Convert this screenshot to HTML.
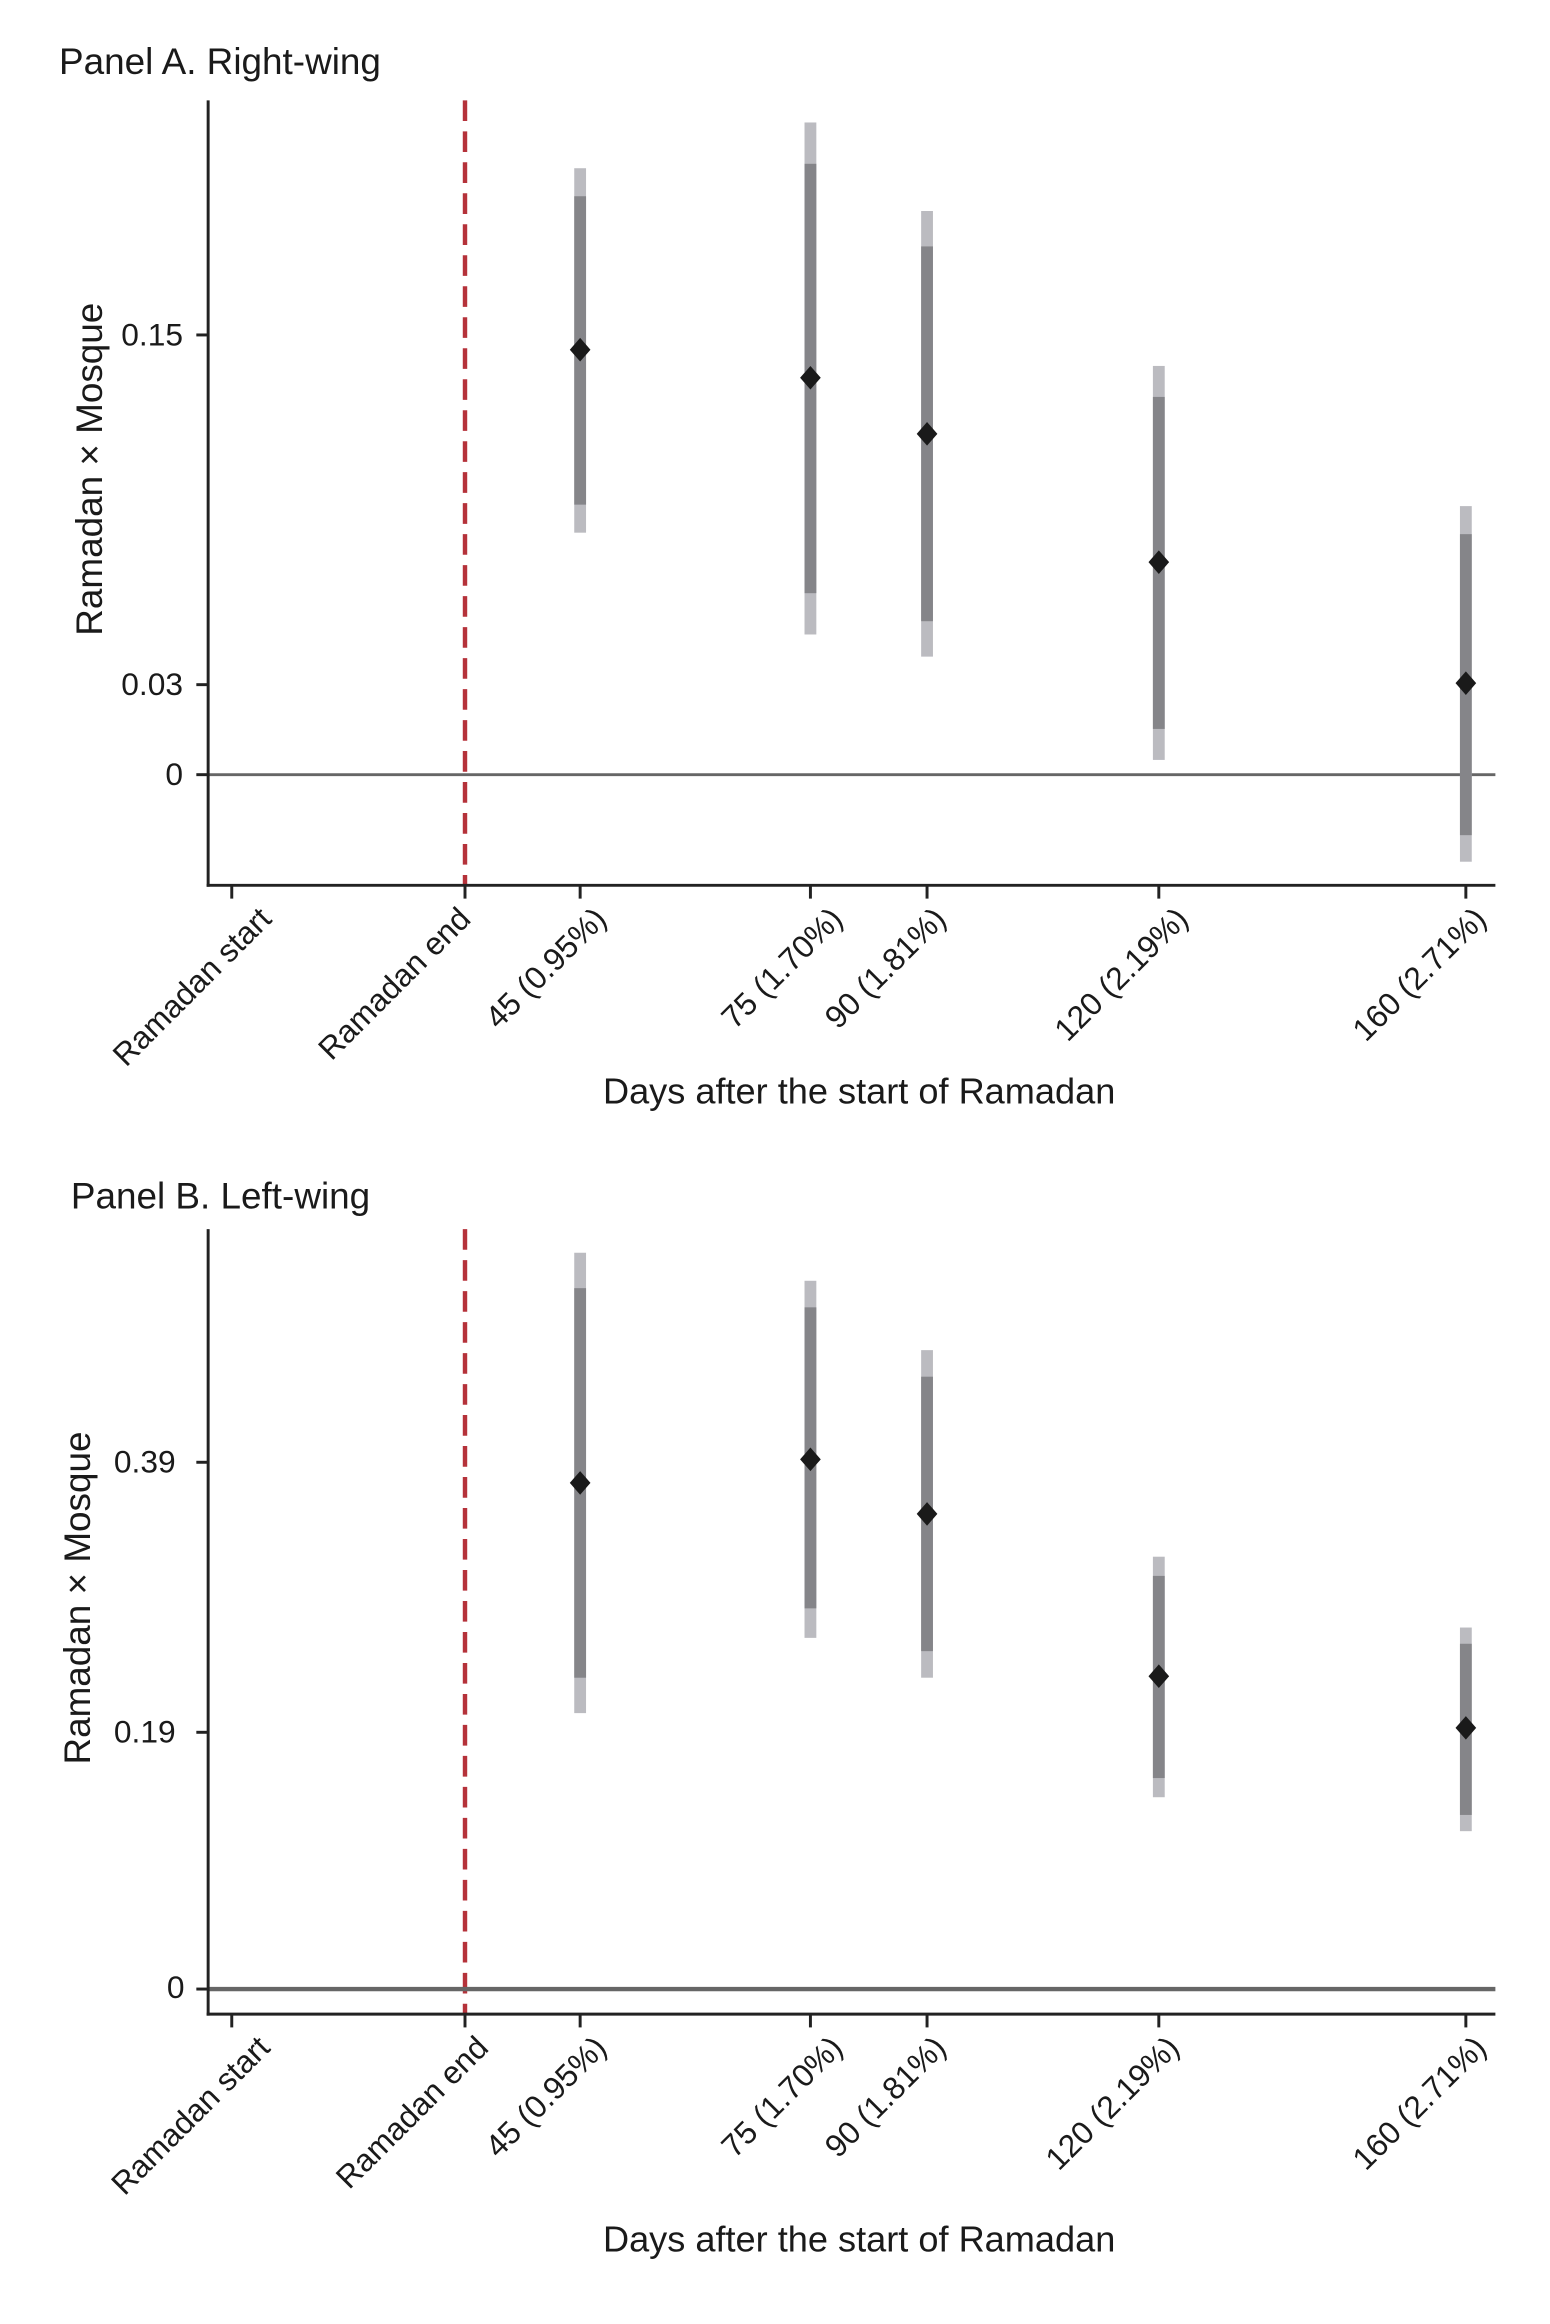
<!DOCTYPE html>
<html><head><meta charset="utf-8"><style>
html,body{margin:0;padding:0;background:#fff;}
svg{display:block;}
text{font-family:"Liberation Sans",sans-serif;fill:#1a1a1a;}
</style></head><body>
<svg width="1550" height="2324" viewBox="0 0 1050 1575" preserveAspectRatio="none" xmlns="http://www.w3.org/2000/svg">
<!-- Panel A -->
<text x="40" y="50" font-size="25">Panel A. Right-wing</text>
<line x1="315" y1="68" x2="315" y2="600" stroke="#b5323a" stroke-width="3" stroke-dasharray="14,7"/>
<line x1="141" y1="525" x2="1013" y2="525" stroke="#666" stroke-width="2"/>
<line x1="141" y1="68" x2="141" y2="601" stroke="#222" stroke-width="2"/>
<line x1="140" y1="600" x2="1013" y2="600" stroke="#222" stroke-width="2"/>
<g stroke="#222" stroke-width="2">
<line x1="133" y1="227" x2="141" y2="227"/><line x1="133" y1="464" x2="141" y2="464"/><line x1="133" y1="525" x2="141" y2="525"/>
<line x1="157" y1="600" x2="157" y2="609"/><line x1="315" y1="600" x2="315" y2="609"/><line x1="393" y1="600" x2="393" y2="609"/><line x1="549" y1="600" x2="549" y2="609"/><line x1="628" y1="600" x2="628" y2="609"/><line x1="785" y1="600" x2="785" y2="609"/><line x1="993" y1="600" x2="993" y2="609"/>
</g>
<g font-size="21.5" text-anchor="end">
<text x="124" y="234">0.15</text><text x="124" y="471">0.03</text><text x="124" y="532">0</text>
</g>
<g fill="#bbbbc0">
<rect x="389" y="114" width="8" height="247"/><rect x="545" y="83" width="8" height="347"/><rect x="624" y="143" width="8" height="302"/><rect x="781" y="248" width="8" height="267"/><rect x="989" y="343" width="8" height="241"/>
</g>
<g fill="#858589">
<rect x="389" y="133" width="8" height="209"/><rect x="545" y="111" width="8" height="291"/><rect x="624" y="167" width="8" height="254"/><rect x="781" y="269" width="8" height="225"/><rect x="989" y="362" width="8" height="204"/>
</g>
<g fill="#1a1a1a">
<path d="M393 229 l7 8 l-7 8 l-7 -8z"/><path d="M549 248 l7 8 l-7 8 l-7 -8z"/><path d="M628 286 l7 8 l-7 8 l-7 -8z"/><path d="M785 373 l7 8 l-7 8 l-7 -8z"/><path d="M993 455 l7 8 l-7 8 l-7 -8z"/>
</g>
<g font-size="21.5" text-anchor="end">
<text transform="translate(185,624) rotate(-45)">Ramadan start</text>
<text transform="translate(320,624) rotate(-45)">Ramadan end</text>
<text transform="translate(412,624) rotate(-45)">45 (0.95%)</text>
<text transform="translate(572,624) rotate(-45)">75 (1.70%)</text>
<text transform="translate(642,624) rotate(-45)">90 (1.81%)</text>
<text transform="translate(806,624) rotate(-45)">120 (2.19%)</text>
<text transform="translate(1008,624) rotate(-45)">160 (2.71%)</text>
</g>
<text x="582" y="748" font-size="24.5" text-anchor="middle">Days after the start of Ramadan</text>
<text transform="translate(69,318) rotate(-90)" font-size="25" text-anchor="middle">Ramadan × Mosque</text>

<!-- Panel B -->
<text x="48" y="819" font-size="25">Panel B. Left-wing</text>
<line x1="315" y1="833" x2="315" y2="1365" stroke="#b5323a" stroke-width="3" stroke-dasharray="14,7"/>
<line x1="141" y1="1348" x2="1013" y2="1348" stroke="#666" stroke-width="3"/>
<line x1="141" y1="833" x2="141" y2="1366" stroke="#222" stroke-width="2"/>
<line x1="140" y1="1365" x2="1013" y2="1365" stroke="#222" stroke-width="2"/>
<g stroke="#222" stroke-width="2">
<line x1="133" y1="991" x2="141" y2="991"/><line x1="133" y1="1174" x2="141" y2="1174"/><line x1="133" y1="1348" x2="141" y2="1348"/>
<line x1="157" y1="1365" x2="157" y2="1374"/><line x1="315" y1="1365" x2="315" y2="1374"/><line x1="393" y1="1365" x2="393" y2="1374"/><line x1="549" y1="1365" x2="549" y2="1374"/><line x1="628" y1="1365" x2="628" y2="1374"/><line x1="785" y1="1365" x2="785" y2="1374"/><line x1="993" y1="1365" x2="993" y2="1374"/>
</g>
<g font-size="21.5" text-anchor="end">
<text x="119" y="998">0.39</text><text x="119" y="1181">0.19</text><text x="125" y="1354">0</text>
</g>
<g fill="#bbbbc0">
<rect x="389" y="849" width="8" height="312"/><rect x="545" y="868" width="8" height="242"/><rect x="624" y="915" width="8" height="222"/><rect x="781" y="1055" width="8" height="163"/><rect x="989" y="1103" width="8" height="138"/>
</g>
<g fill="#858589">
<rect x="389" y="873" width="8" height="264"/><rect x="545" y="886" width="8" height="204"/><rect x="624" y="933" width="8" height="186"/><rect x="781" y="1068" width="8" height="137"/><rect x="989" y="1114" width="8" height="116"/>
</g>
<g fill="#1a1a1a">
<path d="M393 997 l7 8 l-7 8 l-7 -8z"/><path d="M549 981 l7 8 l-7 8 l-7 -8z"/><path d="M628 1018 l7 8 l-7 8 l-7 -8z"/><path d="M785 1128 l7 8 l-7 8 l-7 -8z"/><path d="M993 1163 l7 8 l-7 8 l-7 -8z"/>
</g>
<g font-size="21.5" text-anchor="end">
<text transform="translate(184,1389) rotate(-45)">Ramadan start</text>
<text transform="translate(332,1389) rotate(-45)">Ramadan end</text>
<text transform="translate(412,1389) rotate(-45)">45 (0.95%)</text>
<text transform="translate(572,1389) rotate(-45)">75 (1.70%)</text>
<text transform="translate(642,1389) rotate(-45)">90 (1.81%)</text>
<text transform="translate(800,1389) rotate(-45)">120 (2.19%)</text>
<text transform="translate(1008,1389) rotate(-45)">160 (2.71%)</text>
</g>
<text x="582" y="1526" font-size="24.5" text-anchor="middle">Days after the start of Ramadan</text>
<text transform="translate(61,1083) rotate(-90)" font-size="25" text-anchor="middle">Ramadan × Mosque</text>
</svg>
</body></html>
